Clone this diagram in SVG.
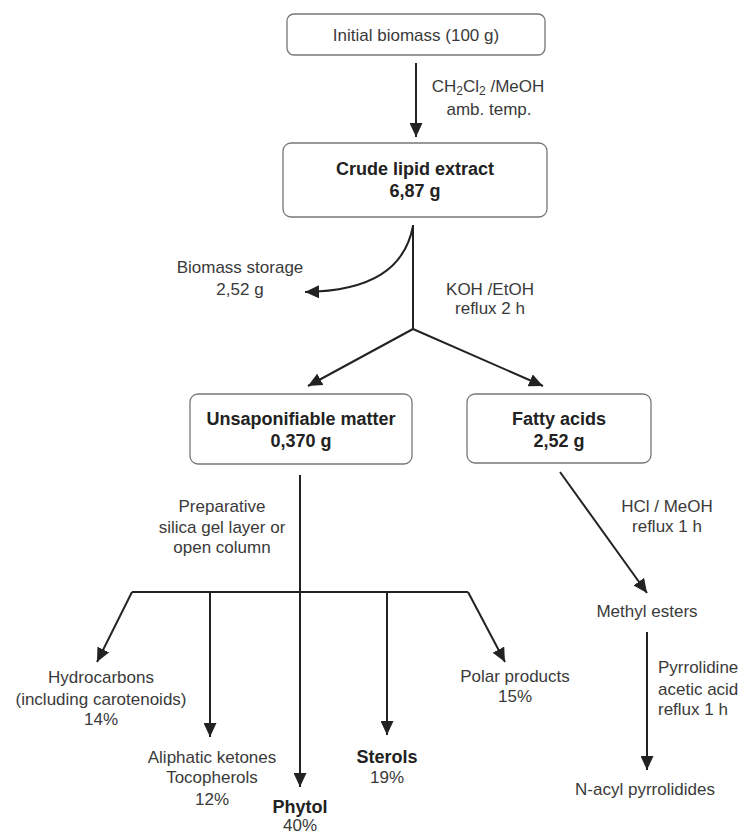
<svg xmlns="http://www.w3.org/2000/svg" width="745" height="837" viewBox="0 0 745 837">
<defs>
<style>
.t{font-family:"Liberation Sans",Arial,sans-serif;font-size:17px;fill:#3a3a3a;text-anchor:middle}
.b{font-weight:bold;font-size:18px;fill:#222}
.l{text-anchor:start}
.box{fill:#fff;stroke:#777;stroke-width:1.3}
.c{fill:none;stroke:#222;stroke-width:2}
.a{marker-end:url(#arr)}
</style>
<marker id="arr" markerUnits="userSpaceOnUse" markerWidth="15" markerHeight="13" refX="14" refY="6.5" orient="auto">
<path d="M0,0 L14,6.5 L0,13 z" fill="#222"/>
</marker>
</defs>
<rect width="745" height="837" fill="#fff"/>
<g id="connectors">
<path class="c a" d="M416,63 L416,137"/>
<path class="c" d="M413,225 L413,329"/>
<path class="c a" d="M413,226 C405,268 372,291 305,292"/>
<path class="c a" d="M413,329 L308,386"/>
<path class="c a" d="M413,329 L543,386"/>
<path class="c a" d="M300,475 L300,787"/>
<path class="c" d="M132,592 L468,592"/>
<path class="c a" d="M132,592 L97,662"/>
<path class="c a" d="M210,592 L210,737"/>
<path class="c a" d="M387,592 L387,735"/>
<path class="c a" d="M468,592 L505,662"/>
<path class="c a" d="M560,472 L647,593"/>
<path class="c a" d="M647,632 L647,770"/>
</g>
<g id="initial-biomass">
<rect class="box" x="287" y="14" width="258" height="41" rx="7"/>
<text class="t" x="416" y="41">Initial biomass (100 g)</text>
</g>
<g id="extraction-label">
<text class="t" x="488" y="92">CH<tspan font-size="12" dy="3">2</tspan><tspan dy="-3">Cl</tspan><tspan font-size="12" dy="3">2</tspan><tspan dy="-3"> /MeOH</tspan></text>
<text class="t" x="489" y="115">amb. temp.</text>
</g>
<g id="crude-lipid-extract">
<rect class="box" x="283" y="143" width="264" height="74" rx="8"/>
<text class="t b" x="415" y="175">Crude lipid extract</text>
<text class="t b" x="415" y="197">6,87 g</text>
</g>
<g id="biomass-storage">
<text class="t" x="240" y="273">Biomass storage</text>
<text class="t" x="240" y="295">2,52 g</text>
</g>
<g id="saponification-label">
<text class="t" x="490" y="295">KOH /EtOH</text>
<text class="t" x="490" y="314">reflux 2 h</text>
</g>
<g id="unsaponifiable-matter">
<rect class="box" x="190" y="394" width="222" height="70" rx="8"/>
<text class="t b" x="301" y="425">Unsaponifiable matter</text>
<text class="t b" x="301" y="447">0,370 g</text>
</g>
<g id="fatty-acids">
<rect class="box" x="467" y="394" width="184" height="69" rx="8"/>
<text class="t b" x="559" y="425">Fatty acids</text>
<text class="t b" x="559" y="447">2,52 g</text>
</g>
<g id="separation-label">
<text class="t" x="222" y="512">Preparative</text>
<text class="t" x="222" y="533">silica gel layer or</text>
<text class="t" x="222" y="553">open column</text>
</g>
<g id="hydrocarbons">
<text class="t" x="101" y="683">Hydrocarbons</text>
<text class="t" x="101" y="705">(including carotenoids)</text>
<text class="t" x="101" y="725">14%</text>
</g>
<g id="aliphatic-ketones">
<text class="t" x="212" y="763">Aliphatic ketones</text>
<text class="t" x="212" y="783">Tocopherols</text>
<text class="t" x="212" y="805">12%</text>
</g>
<g id="phytol">
<text class="t b" x="300" y="813">Phytol</text>
<text class="t" x="300" y="831">40%</text>
</g>
<g id="sterols">
<text class="t b" x="387" y="763">Sterols</text>
<text class="t" x="387" y="783">19%</text>
</g>
<g id="polar-products">
<text class="t" x="515" y="682">Polar products</text>
<text class="t" x="515" y="702">15%</text>
</g>
<g id="methylation-label">
<text class="t" x="667" y="512">HCl / MeOH</text>
<text class="t" x="667" y="532">reflux 1 h</text>
</g>
<g id="methyl-esters">
<text class="t" x="647" y="617">Methyl esters</text>
</g>
<g id="pyrrolidine-label">
<text class="t l" x="658" y="673">Pyrrolidine</text>
<text class="t l" x="658" y="695">acetic acid</text>
<text class="t l" x="658" y="715">reflux 1 h</text>
</g>
<g id="n-acyl-pyrrolidides">
<text class="t" x="645" y="795">N-acyl pyrrolidides</text>
</g>
</svg>
